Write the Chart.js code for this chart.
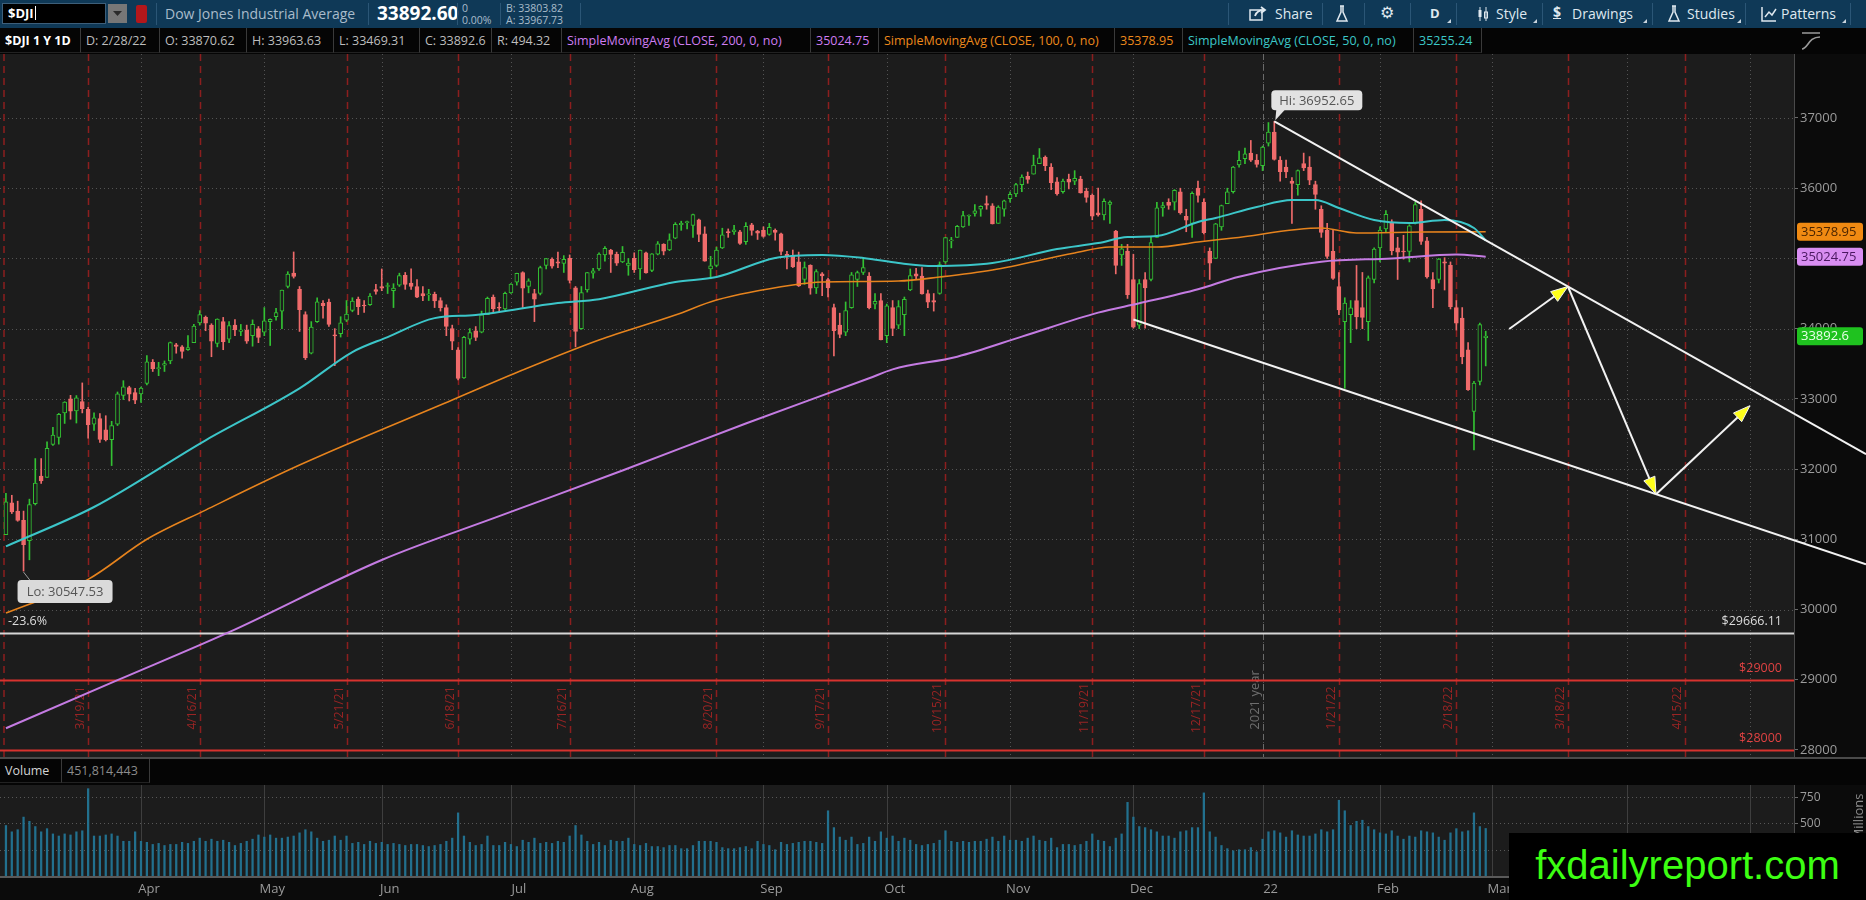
<!DOCTYPE html>
<html>
<head>
<meta charset="utf-8">
<title>$DJI 1 Y 1D</title>
<script src="https://cdn.jsdelivr.net/npm/chart.js@4.4.0/dist/chart.umd.min.js"></script>
<style>
  body { margin: 0; width: 1866px; height: 900px; overflow: hidden; position: relative; background: #1c1c1c; font-family: 'Open Sans', 'DejaVu Sans', sans-serif; }
  .abs { position: absolute; white-space: nowrap; line-height: 1; }
  #top { position: absolute; left: 0; top: 0; width: 1866px; height: 28px; background: #0f3957; }
  #sym { position: absolute; left: 2px; top: 3px; width: 104px; height: 21px; background: #000; border: 1px solid #3d5f7a; box-sizing: border-box; color: #fff; font-weight: 700; font-size: 13px; line-height: 19px; padding-left: 5px; }
  #sym i { display: inline-block; width: 1px; height: 14px; background: #fff; vertical-align: -2px; margin-left: 1px; }
  #dd { position: absolute; left: 108px; top: 4px; width: 19px; height: 19px; background: #777; }
  #red { position: absolute; left: 136px; top: 5px; width: 11px; height: 18px; background: #b3171b; border-radius: 2px; }
  .sep { position: absolute; top: 3px; width: 1px; height: 22px; background: #2b5676; }
  .sm { font-size: 10.5px; color: #a9bccb; }
  .btn { font-size: 14px; color: #dfe8ef; top: 7px; }
  .tri { position: absolute; top: 19px; width: 0; height: 0; border-left: 4px solid transparent; border-bottom: 4px solid #c8d4de; }
  #info { position: absolute; left: 0; top: 28px; width: 1866px; height: 26px; background: #050505; }
  .cell { position: absolute; top: 0; height: 25px; border-right: 1px solid #3a3a3a; border-bottom: 1px solid #222; box-sizing: border-box; padding-left: 5px; font-size: 12.5px; line-height: 25px; color: #bdbdbd; white-space: nowrap; }
  #price { position: absolute; left: 0; top: 54px; }
  #volhead { position: absolute; left: 0; top: 757px; width: 1866px; height: 28px; background: #050505; border-top: 2px solid #4a4a4a; box-sizing: border-box; }
  #vol { position: absolute; left: 0; top: 785px; }
  #mark { position: absolute; left: 1509px; top: 833px; width: 357px; height: 67px; background: #000; color: #3cff12; font-family: 'Liberation Sans', Arial, sans-serif; font-size: 40px; line-height: 64px; text-align: center; }
</style>
</head>
<body>

<div id="top">
  <div id="sym">$DJI<i></i></div>
  <div id="dd"><svg width="19" height="19"><path d="M5 7h9l-4.5 5z" fill="#2b2b2b"/></svg></div>
  <div id="red"></div>
  <span class="sep" style="left:156px"></span>
  <span class="abs" style="left:165px;top:7px;font-size:14px;color:#a9bccb">Dow Jones Industrial Average</span>
  <span class="sep" style="left:368px"></span>
  <span class="abs" style="left:377px;top:4px;font-size:19px;font-weight:700;color:#fff">33892.60</span>
  <span class="sep" style="left:457px"></span>
  <span class="abs sm" style="left:462px;top:3px">0</span>
  <span class="abs sm" style="left:462px;top:15px">0.00%</span>
  <span class="sep" style="left:500px"></span>
  <span class="abs sm" style="left:506px;top:3px">B: 33803.82</span>
  <span class="abs sm" style="left:506px;top:15px">A: 33967.73</span>
  <span class="sep" style="left:580px"></span>

  <span class="sep" style="left:1228px"></span>
  <svg class="abs" style="left:1249px;top:6px" width="18" height="16"><rect x="1" y="4" width="12" height="10" fill="none" stroke="#dfe8ef" stroke-width="1.5"/><path d="M6 10 Q8 4 15 4 M12 1 L16 4 L12 7" fill="none" stroke="#dfe8ef" stroke-width="1.8"/></svg>
  <span class="abs btn" style="left:1275px">Share</span>
  <span class="sep" style="left:1322px"></span>
  <svg class="abs" style="left:1335px;top:5px" width="14" height="18"><path d="M5 1h4M6 1v6L2 16h10L8 7V1" fill="none" stroke="#dfe8ef" stroke-width="1.5"/></svg>
  <span class="sep" style="left:1364px"></span>
  <span class="abs btn" style="left:1380px;top:5px;font-size:16px;font-family:'DejaVu Sans'">&#9881;</span>
  <span class="sep" style="left:1410px"></span>
  <span class="abs btn" style="left:1430px;font-weight:700;font-size:13px">D</span>
  <span class="tri" style="left:1447px"></span>
  <span class="sep" style="left:1456px"></span>
  <svg class="abs" style="left:1477px;top:6px" width="12" height="16"><path d="M3 1v14M9 1v14" stroke="#dfe8ef" stroke-width="1"/><rect x="1.5" y="4" width="3" height="7" fill="#dfe8ef"/><rect x="7.5" y="6" width="3" height="6" fill="none" stroke="#dfe8ef"/></svg>
  <span class="abs btn" style="left:1496px">Style</span>
  <span class="tri" style="left:1533px"></span>
  <span class="sep" style="left:1542px"></span>
  <span class="abs btn" style="left:1553px;top:5px;font-weight:700;text-decoration:underline">$</span>
  <span class="abs btn" style="left:1572px">Drawings</span>
  <span class="tri" style="left:1643px"></span>
  <span class="sep" style="left:1652px"></span>
  <svg class="abs" style="left:1667px;top:5px" width="14" height="18"><path d="M5 1h4M6 1v6L2 16h10L8 7V1" fill="none" stroke="#dfe8ef" stroke-width="1.5"/></svg>
  <span class="abs btn" style="left:1687px">Studies</span>
  <span class="tri" style="left:1737px"></span>
  <span class="sep" style="left:1745px"></span>
  <svg class="abs" style="left:1761px;top:6px" width="16" height="16"><path d="M1 1v14h14M4 11l4-5 3 3 4-6" fill="none" stroke="#dfe8ef" stroke-width="1.5"/></svg>
  <span class="abs btn" style="left:1781px">Patterns</span>
  <span class="tri" style="left:1842px"></span>
  <span class="sep" style="left:1850px"></span>
</div>

<div id="info">
  <div class="cell" style="left:0;width:81px;color:#fff;font-weight:700">$DJI 1 Y 1D</div>
  <div class="cell" style="left:81px;width:79px">D: 2/28/22</div>
  <div class="cell" style="left:160px;width:87px">O: 33870.62</div>
  <div class="cell" style="left:247px;width:87px">H: 33963.63</div>
  <div class="cell" style="left:334px;width:86px">L: 33469.31</div>
  <div class="cell" style="left:420px;width:72px">C: 33892.6</div>
  <div class="cell" style="left:492px;width:70px">R: 494.32</div>
  <div class="cell" style="left:562px;width:249px;color:#cf7df2">SimpleMovingAvg (CLOSE, 200, 0, no)</div>
  <div class="cell" style="left:811px;width:68px;color:#cf7df2">35024.75</div>
  <div class="cell" style="left:879px;width:236px;color:#ee8a1c">SimpleMovingAvg (CLOSE, 100, 0, no)</div>
  <div class="cell" style="left:1115px;width:68px;color:#ee8a1c">35378.95</div>
  <div class="cell" style="left:1183px;width:231px;color:#3cc8c8">SimpleMovingAvg (CLOSE, 50, 0, no)</div>
  <div class="cell" style="left:1414px;width:68px;color:#3cc8c8">35255.24</div>
  <svg class="abs" style="left:1800px;top:2px" width="22" height="22"><path d="M2 3h18M2 19c6 0 6-12 18-12" fill="none" stroke="#9a9a9a" stroke-width="1.6"/></svg>
</div>

<canvas id="price" width="1866" height="703"></canvas>

<div id="volhead">
  <div class="cell" style="left:0;width:62px;height:24px;line-height:24px;color:#d4d4d4">Volume</div>
  <div class="cell" style="left:62px;width:88px;height:24px;line-height:24px;color:#8c8c8c">451,814,443</div>
</div>

<canvas id="vol" width="1866" height="115"></canvas>

<div id="mark">fxdailyreport.com</div>

<script>
// daily candles [open, high, low, close], one array per month
const mar21 = [
  [31065,31653,31065,31535],[31520,31627,31367,31391],[31402,31543,31257,31270],[31270,31402,30547.53,30924],[30981,31572,30708,31496],
  [31506,32150,31489,31802],[31900,32150,31795,31832],[31880,32389,31880,32297],[32350,32596,32338,32485],[32450,32793,32355,32779],
  [32800,32960,32650,32953],[33000,33050,32710,32825],[32830,33047,32656,33015],[32960,33227,32800,32862],[32850,32880,32440,32628],
  [32640,32800,32550,32731],[32720,32790,32380,32423],[32560,32760,32400,32420],[32420,32680,32050,32619],[32640,33098,32620,33072],
  [33050,33259,32990,33171],[33160,33180,32970,33066],[33090,33150,32930,32982]
];
const apr21 = [
  [33070,33167,32950,33153],
  [33220,33617,33200,33527],[33520,33560,33390,33430],[33430,33520,33330,33446],[33480,33540,33390,33503],[33540,33810,33500,33801],
  [33770,33790,33650,33746],[33740,33760,33580,33677],[33700,33900,33690,33730],[33800,34060,33800,34036],[34080,34256,34050,34200],
  [34160,34180,33970,34078],[34050,34070,33600,33821],[33790,34140,33740,34137],[34100,34160,33700,33815],[33850,34100,33800,34043],
  [34050,34130,33900,33981],[33960,34060,33900,33984],[33980,34050,33790,33820],[33900,34125,33750,34060],[34000,34030,33800,33875]
];
const may21 = [
  [33950,34300,33900,34113],[34100,34140,33760,34133],[34170,34290,34120,34230],[34250,34550,34000,34548],[34600,34811,34580,34778],
  [34790,35092,34720,34743],[34560,34600,33960,34270],[34200,34240,33560,33587],[33650,34100,33640,34021],[34100,34440,34090,34382],
  [34360,34400,34150,34327],[34380,34420,34030,34060],[33900,34000,33473,33896],[33930,34170,33880,34084],[34120,34400,34100,34208],
  [34260,34440,34240,34394],[34420,34450,34200,34312],[34330,34400,34230,34323],[34340,34500,34330,34464],[34558,34631,34490,34529]
];
const jun21 = [
  [34600,34850,34540,34575],[34600,34650,34500,34600],[34540,34640,34300,34577],[34620,34790,34600,34756],
  [34760,34800,34560,34630],[34650,34850,34560,34600],[34600,34700,34440,34447],[34500,34600,34400,34466],[34480,34560,34400,34480],
  [34490,34520,34300,34393],[34400,34440,34250,34299],[34300,34340,33900,34033],[34000,34050,33700,33823],[33700,33730,33270,33290],
  [33300,33890,33290,33876],[33850,34000,33780,33945],[33970,34030,33830,33874],[33950,34250,33940,34196],[34200,34450,34200,34433],
  [34450,34480,34230,34283],[34300,34370,34230,34292],[34280,34520,34270,34502]
];
const jul21 = [
  [34510,34640,34500,34633],[34660,34790,34620,34786],
  [34800,34810,34300,34577],[34600,34710,34510,34681],[34500,34560,34100,34421],[34500,34890,34480,34870],
  [34900,35000,34850,34996],[34990,35010,34860,34889],[34950,35090,34870,34933],[34930,35040,34800,34987],[35000,35050,34650,34688],
  [34580,34600,33740,33962],[34000,34600,33990,34512],[34550,34800,34520,34798],[34790,34860,34720,34823],[34850,35080,34830,35062],
  [35050,35170,34960,35144],[35120,35130,34800,35058],[35060,35090,34900,34931],[34950,35170,34940,35085],[34900,35000,34760,34935]
];
const aug21 = [
  [35000,35080,34800,34838],[34850,35120,34700,35117],[35080,35090,34790,34793],[34830,35070,34810,35065],[35060,35240,35050,35209],
  [35200,35210,35050,35102],[35120,35350,35110,35265],[35290,35510,35280,35485],[35480,35530,35400,35500],[35510,35530,35420,35516],
  [35470,35630,35300,35625],[35550,35560,35240,35343],[35350,35450,34960,34961],[34850,35030,34710,34894],[34900,35160,34880,35120],
  [35150,35430,35140,35336],[35370,35420,35300,35367],[35380,35470,35340,35406],[35380,35400,35200,35214],[35240,35510,35200,35456],
  [35480,35500,35330,35400],[35390,35400,35270,35361]
];
const sep21 = [
  [35400,35450,35300,35313],[35340,35500,35330,35444],[35400,35420,35260,35369],
  [35350,35360,35050,35100],[35060,35100,34850,35031],[35040,35120,34870,34879],[34950,35090,34600,34608],
  [34700,34950,34630,34870],[34900,34910,34490,34578],[34580,34840,34500,34814],[34780,34800,34470,34751],[34700,34720,34450,34584],
  [34300,34350,33610,33970],[34050,34220,33870,33919],[33950,34380,33900,34258],[34300,34800,34290,34765],[34700,34820,34600,34798],
  [34800,35000,34770,34870],[34750,34800,34280,34300],[34350,34500,34280,34390],[34400,34500,33840,33844]
];
const oct21 = [
  [33900,34350,33800,34326],
  [34300,34400,33900,34003],[34050,34400,34000,34315],[34200,34450,33900,34417],[34550,34850,34540,34755],[34780,34860,34700,34746],
  [34750,34870,34490,34496],[34500,34550,34300,34378],[34400,34500,34250,34377],[34500,34950,34490,34912],[34950,35300,34930,35295],
  [35250,35300,35150,35259],[35300,35470,35300,35458],[35450,35670,35440,35609],[35600,35620,35470,35603],[35640,35765,35600,35677],
  [35700,35750,35600,35742],[35780,35890,35700,35757],[35750,35780,35490,35491],[35500,35750,35500,35731],[35700,35830,35600,35820]
];
const nov21 = [
  [35850,35950,35800,35913],[35920,36070,35880,36053],[36050,36190,35950,36158],[36170,36230,36070,36124],[36200,36470,36200,36328],
  [36350,36565,36350,36432],[36440,36460,36250,36320],[36300,36350,35980,36080],[36090,36150,35900,35921],[35950,36130,35930,36100],
  [36130,36200,35990,36087],[36100,36250,36050,36142],[36130,36170,35930,35931],[35960,36000,35800,35870],[35900,35920,35550,35602],
  [35650,36000,35600,35619],[35620,35850,35550,35814],[35770,35820,35500,35804],[35390,35400,34780,34899],
  [35050,35200,34900,35136],[35100,35200,34430,34484]
];
const dec21 = [
  [34700,35060,34006,34022],[34050,34700,34000,34640],[34700,34800,34006,34581],
  [34700,35300,34680,35227],[35300,35800,35300,35720],[35720,35800,35600,35754],[35800,35850,35700,35754],[35800,35980,35690,35971],
  [35950,36000,35630,35650],[35600,35700,35380,35544],[35500,35950,35300,35927],[36000,36100,35800,35898],[35800,35850,35350,35365],
  [35100,35150,34700,34932],[35000,35500,35000,35493],[35450,35760,35400,35754],[35780,36000,35780,35950],
  [35950,36310,35930,36302],[36330,36530,36300,36398],[36420,36570,36350,36488],[36500,36680,36380,36398],[36400,36480,36300,36338]
];
const jan22 = [
  [36320,36600,36250,36585],[36640,36935,36600,36800],[36800,36952.65,36400,36408],[36400,36450,36100,36236],[36300,36400,36150,36232],
  [36100,36150,35500,36068],[36050,36260,35900,36252],[36350,36500,36250,36290],[36300,36450,36050,36114],[36050,36100,35700,35912],
  [35700,35750,35300,35369],[35400,35500,35000,35029],[35100,35400,34700,34715],[34600,34800,34200,34265],
  [34100,34440,33150,34365],[34200,34400,33800,34298],[34400,34900,34000,34168],[34300,34800,34000,34160],[34100,34750,33830,34725],
  [34700,35150,34650,35132]
];
const feb22 = [
  [35150,35450,34950,35405],[35420,35680,35380,35629],[35500,35550,35050,35111],[35150,35300,34700,35089],
  [35100,35330,34990,35091],[35100,35480,34950,35463],[35500,35800,35490,35768],[35700,35820,35200,35242],[35250,35300,34720,34738],
  [34700,34800,34300,34566],[34700,35000,34650,34989],[34950,35010,34550,34934],[34900,34950,34280,34312],[34300,34400,33980,34079],
  [34150,34300,33500,33597],[33700,33800,33120,33132],[32820,33250,32272.64,33224],[33250,34080,33200,34059],
  [33870.62,33963.63,33469.31,33892.6]
];

// volume in millions, same days
const volumes = [
  480,420,440,560,520,470,420,450,400,380,400,390,420,430,830,380,380,390,400,380,330,330,420,
  330,320,300,310,290,300,300,320,310,330,360,330,350,330,340,320,290,310,330,350,390,
  370,390,360,360,370,380,410,440,420,360,330,340,380,340,380,310,320,300,330,310,
  320,300,310,300,290,300,300,290,280,290,300,330,360,600,380,320,290,300,380,290,290,320,
  300,280,340,320,360,310,320,310,330,320,380,480,390,330,300,320,290,340,330,330,360,
  300,290,310,280,280,270,290,290,260,260,290,330,330,330,320,270,260,260,270,280,260,330,
  300,290,250,320,300,310,320,330,330,320,310,620,460,370,340,370,300,310,370,330,420,
  360,380,330,360,340,300,290,300,310,340,430,330,320,330,320,330,330,350,370,330,380,
  340,340,330,360,380,340,330,360,270,300,300,290,300,330,400,340,330,280,360,400,700,
  560,470,460,440,420,380,380,360,420,430,460,460,790,420,370,290,260,240,250,250,270,230,
  350,420,430,410,370,430,390,380,380,400,440,420,440,720,620,480,520,530,470,440,
  410,400,430,380,350,380,370,430,420,410,370,340,410,450,420,430,600,470,451.8
];

// moving averages: [day, value]
const sma50 = [
  ['2021-03-01',30900],['2021-03-22',31460],['2021-04-19',32410],['2021-05-11',33150],['2021-05-24',33667],
  ['2021-06-02',33880],['2021-06-14',34150],['2021-06-23',34194],['2021-07-14',34365],['2021-07-23',34420],
  ['2021-08-11',34664],['2021-08-20',34735],['2021-09-03',35006],['2021-09-16',35049],['2021-09-27',35006],
  ['2021-10-05',34934],['2021-10-13',34892],['2021-10-27',34934],['2021-11-11',35134],['2021-11-22',35219],
  ['2021-11-30',35305],['2021-12-07',35319],['2021-12-16',35519],['2021-12-21',35576],['2021-12-31',35733],
  ['2022-01-10',35832],['2022-01-14',35832],['2022-01-21',35718],['2022-01-31',35547],['2022-02-08',35504],
  ['2022-02-16',35547],['2022-02-24',35433],['2022-02-28',35255.24]
];
const sma100 = [
  ['2021-03-01',29950],['2021-03-19',30430],['2021-04-05',31000],['2021-04-19',31416],['2021-05-11',32057],
  ['2021-06-17',32983],['2021-07-06',33410],['2021-07-23',33838],['2021-08-11',34194],['2021-08-20',34407],
  ['2021-09-09',34621],['2021-09-16',34664],['2021-10-05',34678],['2021-10-14',34735],['2021-10-27',34835],
  ['2021-11-16',35077],['2021-11-24',35162],['2021-12-07',35162],['2021-12-16',35234],['2021-12-27',35290],
  ['2022-01-18',35433],['2022-01-26',35362],['2022-02-10',35376],['2022-02-28',35378.95]
];
const sma200 = [
  ['2021-03-01',28310],['2021-03-26',28994],['2021-04-23',29678],['2021-06-01',30706],['2021-06-29',31330],
  ['2021-07-29',31980],['2021-08-27',32650],['2021-09-28',33293],['2021-10-04',33420],['2021-10-19',33601],
  ['2021-11-03',33886],['2021-11-22',34228],['2021-12-02',34361],['2021-12-16',34561],['2021-12-28',34740],
  ['2022-01-18',34953],['2022-02-03',35000],['2022-02-18',35057],['2022-02-28',35024.75]
];

const priceTicks = [28000, 29000, 30000, 31000, 32000, 33000, 34000, 35000, 36000, 37000];
const volTicks = [250, 500, 750];
const expiries = ['2021-03-19','2021-04-16','2021-05-21','2021-06-18','2021-07-16','2021-08-20','2021-09-17',
  '2021-10-15','2021-11-19','2021-12-17','2022-01-21','2022-02-18','2022-03-18','2022-04-15'];
const holidays = ['2021-04-02','2021-05-31','2021-07-05','2021-09-06','2021-11-25','2021-12-24','2022-01-17','2022-02-21'];
const monthNames = ['22','Feb','Mar','Apr','May','Jun','Jul','Aug','Sep','Oct','Nov','Dec'];
const levels = [29666.11, 29000, 28000];
// drawn trendlines and the projected path
const upperLine = [['2022-01-05', 36952.65], ['2022-03-18', 34600]];
const lowerLine = [['2021-12-01', 34130], ['2022-04-08', 31643]];
const path = [['2022-03-04', 33995], ['2022-03-18', 34600], ['2022-04-08', 31643], ['2022-05-02', 32903]];
const lastTags = [[35378.95, '#f08a12', '#4a2400'], [35024.75, '#d98ef2', '#4a1860'], [33892.6, '#1fc21f', '#eaffea']];

const candles = [...mar21, ...apr21, ...may21, ...jun21, ...jul21, ...aug21, ...sep21, ...oct21, ...nov21, ...dec21, ...jan22, ...feb22];

// trading days, then plain weekdays for the empty space on the right
const days = [];
for (let d = new Date(Date.UTC(2021, 2, 1)); d <= new Date(Date.UTC(2022, 4, 11)); d.setUTCDate(d.getUTCDate() + 1)) {
  const s = d.toISOString().slice(0, 10);
  if (d.getUTCDay() === 0 || d.getUTCDay() === 6 || holidays.includes(s)) continue;
  days.push(s);
}
const monthStarts = [];
days.forEach((s, i) => { if (i > 0 && s.slice(0, 7) !== days[i - 1].slice(0, 7)) monthStarts.push(i); });

const UP = '#33c233', DOWN = '#ef6b6b', PLOT = '#1c1c1c';
const isUp = candles.map(c => c[3] >= c[0]);
const FONT = "'Open Sans', 'DejaVu Sans', sans-serif";
Chart.defaults.font.family = FONT;

function seg(ctx, x1, y1, x2, y2) { ctx.beginPath(); ctx.moveTo(x1, y1); ctx.lineTo(x2, y2); ctx.stroke(); }
function shortDate(s) { const p = s.split('-'); return (+p[1]) + '/' + (+p[2]) + '/' + p[0].slice(2); }
function box(ctx, x, y, w, h, r) { ctx.beginPath(); if (ctx.roundRect) ctx.roundRect(x, y, w, h, r); else ctx.rect(x, y, w, h); }

const tosPrice = {
  id: 'tosPrice',
  beforeDraw(chart) {
    const { ctx, chartArea: a } = chart;
    ctx.save();
    ctx.fillStyle = '#0b0b0b';
    ctx.fillRect(0, 0, chart.width, chart.height);
    ctx.fillStyle = PLOT;
    ctx.fillRect(0, a.top, a.right, a.bottom - a.top);
    ctx.restore();
  },
  beforeDatasetsDraw(chart) {
    const { ctx, chartArea: a, scales: { x, y } } = chart;
    const px = s => x.getPixelForValue(days.indexOf(s));
    ctx.save();
    ctx.beginPath(); ctx.rect(0, a.top, a.right, a.bottom - a.top); ctx.clip();

    ctx.strokeStyle = '#545454'; ctx.lineWidth = 1; ctx.setLineDash([1, 3]);
    priceTicks.forEach(v => { const py = Math.round(y.getPixelForValue(v)) + 0.5; seg(ctx, 0, py, a.right, py); });
    monthStarts.forEach(i => { const p = Math.round(x.getPixelForValue(i)) + 0.5; seg(ctx, p, a.top, p, a.bottom); });

    // option expiration days
    ctx.strokeStyle = '#8c1e1e'; ctx.lineWidth = 1.5; ctx.setLineDash([7, 5]);
    seg(ctx, a.left + 1, a.top, a.left + 1, a.bottom);
    ctx.font = '12px ' + FONT; ctx.fillStyle = '#9a2424';
    expiries.forEach(s => {
      const p = Math.round(px(s)) + 0.5;
      seg(ctx, p, a.top, p, a.bottom);
      ctx.save(); ctx.translate(p - 2, a.bottom - 49); ctx.rotate(-Math.PI / 2);
      ctx.textAlign = 'center'; ctx.textBaseline = 'bottom';
      ctx.fillText(shortDate(s), 0, 0); ctx.restore();
    });

    // year separator
    const yi = days.findIndex(s => s.startsWith('2022'));
    const yp = Math.round(x.getPixelForValue(yi)) + 0.5;
    ctx.strokeStyle = '#6a6a6a'; ctx.lineWidth = 1; ctx.setLineDash([6, 4]);
    seg(ctx, yp, a.top, yp, a.bottom);
    ctx.fillStyle = '#6e6e6e';
    ctx.save(); ctx.translate(yp - 2, a.bottom - 57); ctx.rotate(-Math.PI / 2);
    ctx.textAlign = 'center'; ctx.textBaseline = 'bottom'; ctx.font = '13px ' + FONT;
    ctx.fillText('2021 year', 0, 0); ctx.restore();

    // price levels
    ctx.setLineDash([]);
    levels.forEach((v, k) => {
      const py = Math.round(y.getPixelForValue(v)) + 0.5;
      ctx.strokeStyle = k === 0 ? '#d6d6d6' : '#d8322e'; ctx.lineWidth = 2;
      seg(ctx, 0, py, a.right, py);
      ctx.font = '12.5px ' + FONT; ctx.textBaseline = 'middle'; ctx.textAlign = 'right';
      ctx.fillStyle = k === 0 ? '#dcdcdc' : '#e04242';
      ctx.fillText('$' + (k === 0 ? v.toFixed(2) : v), a.right - 12, py - 12);
      if (k === 0) { ctx.textAlign = 'left'; ctx.fillText('-23.6%', 8, py - 12); }
    });
    ctx.restore();
  },
  afterDraw(chart) {
    const { ctx, chartArea: a, scales: { x, y } } = chart;
    const pt = p => [x.getPixelForValue(days.indexOf(p[0])), y.getPixelForValue(p[1])];
    ctx.save();

    // trendlines run to the right edge of the window
    ctx.strokeStyle = '#f2f2f2'; ctx.lineWidth = 2;
    [upperLine, lowerLine].forEach(l => {
      const [x1, y1] = pt(l[0]), [x2, y2] = pt(l[1]);
      const k = (y2 - y1) / (x2 - x1);
      seg(ctx, x1, y1, chart.width, y1 + k * (chart.width - x1));
    });

    // projected path arrows
    for (let i = 1; i < path.length; i++) {
      const [x1, y1] = pt(path[i - 1]), [x2, y2] = pt(path[i]);
      const ang = Math.atan2(y2 - y1, x2 - x1), L = 17, W = 6;
      ctx.strokeStyle = '#f2f2f2'; ctx.lineWidth = 2;
      seg(ctx, x1, y1, x2 - Math.cos(ang) * 8, y2 - Math.sin(ang) * 8);
      ctx.beginPath();
      ctx.moveTo(x2, y2);
      ctx.lineTo(x2 - L * Math.cos(ang) + W * Math.sin(ang), y2 - L * Math.sin(ang) - W * Math.cos(ang));
      ctx.lineTo(x2 - L * Math.cos(ang) - W * Math.sin(ang), y2 - L * Math.sin(ang) + W * Math.cos(ang));
      ctx.closePath();
      ctx.fillStyle = '#ffff1a'; ctx.fill();
      ctx.lineWidth = 1; ctx.strokeStyle = '#f2f2f2'; ctx.stroke();
    }

    // high / low bubbles
    const highs = candles.map(c => c[1]), lows = candles.map(c => c[2]);
    const hi = highs.indexOf(Math.max(...highs)), lo = lows.indexOf(Math.min(...lows));
    ctx.font = '13px ' + FONT; ctx.textAlign = 'center'; ctx.textBaseline = 'middle';
    const hx = x.getPixelForValue(hi), hy = y.getPixelForValue(highs[hi]);
    ctx.fillStyle = '#e2e2e2';
    box(ctx, hx - 3, hy - 31, 91, 20, 4); ctx.fill();
    ctx.beginPath(); ctx.moveTo(hx + 2, hy - 12); ctx.lineTo(hx + 11, hy - 12); ctx.lineTo(hx + 1, hy - 1); ctx.closePath(); ctx.fill();
    ctx.fillStyle = '#555';
    ctx.fillText('Hi: ' + highs[hi].toFixed(2), hx + 42.5, hy - 20.5);

    const lx = x.getPixelForValue(lo), ly = y.getPixelForValue(lows[lo]);
    ctx.strokeStyle = '#9a9a9a'; ctx.lineWidth = 1;
    seg(ctx, lx, ly + 1, lx + 7, ly + 10);
    ctx.fillStyle = '#dadada';
    box(ctx, lx - 6, ly + 9, 95, 23, 4); ctx.fill();
    ctx.fillStyle = '#555';
    ctx.fillText('Lo: ' + lows[lo].toFixed(2), lx + 41.5, ly + 21);

    // last value bubbles on the price axis
    ctx.font = '13px ' + FONT; ctx.textAlign = 'left';
    lastTags.forEach(([v, bg, fg]) => {
      const ty = y.getPixelForValue(v);
      ctx.fillStyle = bg; box(ctx, a.right + 3, ty - 9, 66, 18, 3); ctx.fill();
      ctx.fillStyle = fg; ctx.fillText(String(v), a.right + 7, ty + 0.5);
    });
    ctx.restore();
  }
};

new Chart(document.getElementById('price'), {
  type: 'bar',
  data: {
    labels: days,
    datasets: [
      { type: 'line', data: sma50.map(p => ({ x: p[0], y: p[1] })), borderColor: '#3cc6c9', borderWidth: 2, pointRadius: 0, cubicInterpolationMode: 'monotone' },
      { type: 'line', data: sma100.map(p => ({ x: p[0], y: p[1] })), borderColor: '#e6831d', borderWidth: 1.6, pointRadius: 0, cubicInterpolationMode: 'monotone' },
      { type: 'line', data: sma200.map(p => ({ x: p[0], y: p[1] })), borderColor: '#c47be2', borderWidth: 2, pointRadius: 0, cubicInterpolationMode: 'monotone' },
      { data: candles.map(c => [c[0], c[3]]), backgroundColor: isUp.map(u => u ? PLOT : DOWN), borderColor: isUp.map(u => u ? UP : DOWN),
        borderWidth: 1, borderSkipped: false, barThickness: 4, grouped: false, minBarLength: 1 },
      { data: candles.map(c => [c[2], c[1]]), backgroundColor: isUp.map(u => u ? UP : DOWN), barThickness: 1, grouped: false }
    ]
  },
  options: {
    responsive: false,
    animation: false,
    events: [],
    layout: { padding: { left: 3, right: 0, top: 0, bottom: 0 } },
    plugins: { legend: { display: false }, tooltip: { enabled: false } },
    scales: {
      x: { type: 'category', display: false, offset: true, afterFit(s) { s.paddingLeft = 0; s.paddingRight = 0; } },
      y: {
        position: 'right', min: 27900, max: 37911,
        afterBuildTicks(s) { s.ticks = priceTicks.map(v => ({ value: v })); },
        afterFit(s) { s.width = 72; s.paddingTop = 0; s.paddingBottom = 0; },
        ticks: { color: '#9c9c9c', font: { size: 13 }, padding: 2, callback: v => String(v) },
        grid: { drawOnChartArea: false, tickLength: 4, color: '#6a6a6a' },
        border: { display: true, color: '#4a4a4a' }
      }
    }
  },
  plugins: [tosPrice]
});

const tosVol = {
  id: 'tosVol',
  beforeDraw(chart) {
    const { ctx, chartArea: a } = chart;
    ctx.save();
    ctx.fillStyle = '#0b0b0b'; ctx.fillRect(0, 0, chart.width, chart.height);
    ctx.fillStyle = PLOT; ctx.fillRect(0, a.top, a.right, a.bottom - a.top);
    ctx.restore();
  },
  beforeDatasetsDraw(chart) {
    const { ctx, chartArea: a, scales: { x, y } } = chart;
    ctx.save();
    ctx.strokeStyle = '#3e3e3e'; ctx.lineWidth = 1;
    monthStarts.forEach(i => { const p = Math.round(x.getPixelForValue(i)) + 0.5; seg(ctx, p, a.top, p, a.bottom); });
    ctx.strokeStyle = '#585858'; ctx.setLineDash([1, 3]);
    volTicks.forEach(v => { const py = Math.round(y.getPixelForValue(v)) + 0.5; seg(ctx, 0, py, a.right, py); });
    ctx.restore();
  },
  afterDraw(chart) {
    const { ctx, chartArea: a, scales: { x } } = chart;
    ctx.save();
    ctx.strokeStyle = '#5a5a5a'; ctx.lineWidth = 2;
    seg(ctx, 0, a.bottom + 1, a.right, a.bottom + 1);
    ctx.fillStyle = '#9a9a9a'; ctx.font = '13px ' + FONT; ctx.textAlign = 'center'; ctx.textBaseline = 'middle';
    monthStarts.forEach(i => ctx.fillText(monthNames[+days[i].slice(5, 7) - 1], x.getPixelForValue(i) + 8, a.bottom + 13));
    ctx.save(); ctx.translate(1859, 32); ctx.rotate(-Math.PI / 2);
    ctx.fillStyle = '#8a8a8a'; ctx.fillText('Millions', 0, 0); ctx.restore();
    ctx.restore();
  }
};

new Chart(document.getElementById('vol'), {
  type: 'bar',
  data: {
    labels: days,
    datasets: [{ data: volumes, backgroundColor: '#22708e', barThickness: 1.6 }]
  },
  options: {
    responsive: false,
    animation: false,
    events: [],
    layout: { padding: { left: 3, right: 0, top: 0, bottom: 24 } },
    plugins: { legend: { display: false }, tooltip: { enabled: false } },
    scales: {
      x: { type: 'category', display: false, afterFit(s) { s.paddingLeft = 0; s.paddingRight = 0; } },
      y: {
        position: 'right', min: 0, max: 865,
        afterBuildTicks(s) { s.ticks = volTicks.map(v => ({ value: v })); },
        afterFit(s) { s.width = 72; s.paddingTop = 0; s.paddingBottom = 0; },
        ticks: { color: '#9c9c9c', font: { size: 12 }, padding: 2, callback: v => String(v) },
        grid: { drawOnChartArea: false, tickLength: 4, color: '#6a6a6a' },
        border: { display: true, color: '#4a4a4a' }
      }
    }
  },
  plugins: [tosVol]
});
</script>
</body>
</html>
